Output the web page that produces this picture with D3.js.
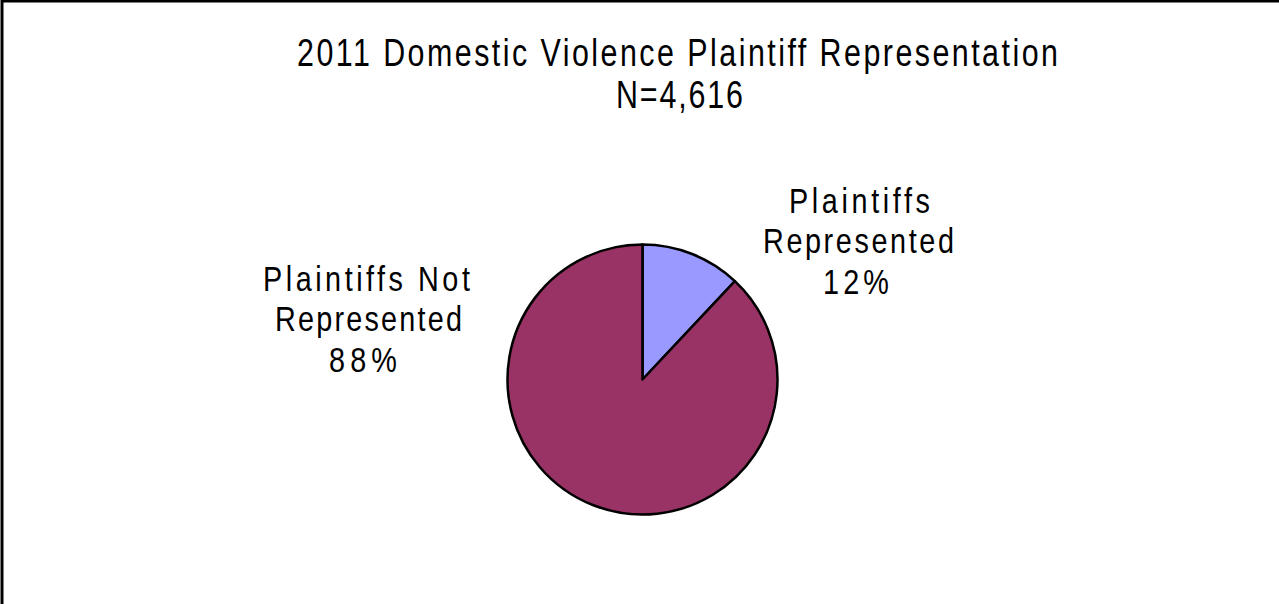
<!DOCTYPE html>
<html>
<head>
<meta charset="utf-8">
<script src="https://cdn.jsdelivr.net/npm/d3@7"></script>
<style>
  html, body { margin: 0; padding: 0; background: #fff; }
  svg { display: block; }
  text { font-family: "Liberation Sans Narrow", "Arial Narrow", "Liberation Sans", sans-serif; fill: #000; }
</style>
</head>
<body>
<svg id="chart" width="1279" height="604"></svg>
<script>
const titleLines = ["2011 Domestic Violence Plaintiff Representation", "N=4,616"];
const categories = ["Plaintiffs Represented", "Plaintiffs Not Represented"];
const values = [12, 88];
const labelLines = [["Plaintiffs", "Represented", "12%"], ["Plaintiffs Not", "Represented", "88%"]];
const colors = ["#9999FF", "#993366"];

const svg = d3.select("#chart");
const W = 1279, H = 604;

svg.append("rect").attr("x", 0).attr("y", 0).attr("width", W).attr("height", H).attr("fill", "#fff");
// outer chart border (extends beyond right/bottom edges)
svg.append("rect").attr("x", 2).attr("y", 1).attr("width", W + 20).attr("height", H + 20)
  .attr("fill", "none").attr("stroke", "#000").attr("stroke-width", 3);

// Narrow, letter-spaced text: condense horizontally and spread letters to fill a given span
const SX = 0.8;
function spacedLine(str, left, right, baseline, size) {
  const t = svg.append("text").attr("x", 0).attr("y", 0)
    .style("font-size", size + "px").style("letter-spacing", "0px").text(str);
  const w0 = t.node().getComputedTextLength();
  const n = str.length;
  const s = ((right - left) / SX - w0) / Math.max(1, n - 1);
  t.style("letter-spacing", s + "px");
  t.attr("transform", `translate(${left},${baseline}) scale(${SX},1)`);
  return t;
}

// Title
const titleSpans = [[297, 1058, 66], [616, 743, 108]];
titleLines.forEach((s, i) => spacedLine(s, titleSpans[i][0], titleSpans[i][1], titleSpans[i][2], 38));

// Pie
const cx = 642.5, cy = 379.5, r = 135;
const pie = d3.pie().sort(null).value(d => d)(values);
const arc = d3.arc().innerRadius(0).outerRadius(r);
const g = svg.append("g").attr("transform", `translate(${cx},${cy})`);
g.selectAll("path").data(pie).join("path")
  .attr("d", arc).attr("fill", (d, i) => colors[i])
  .attr("stroke", "#000").attr("stroke-width", 2.5).attr("stroke-linejoin", "round");

// Labels
const labelSpans = [
  [[789, 930, 213], [763, 954, 253], [823, 889, 294]],
  [[263, 470, 291], [275, 462, 331], [329, 397, 372]]
];
labelLines.forEach((lines, i) => {
  lines.forEach((s, j) => {
    const sp = labelSpans[i][j];
    spacedLine(s, sp[0], sp[1], sp[2], 36);
  });
});
</script>
</body>
</html>
